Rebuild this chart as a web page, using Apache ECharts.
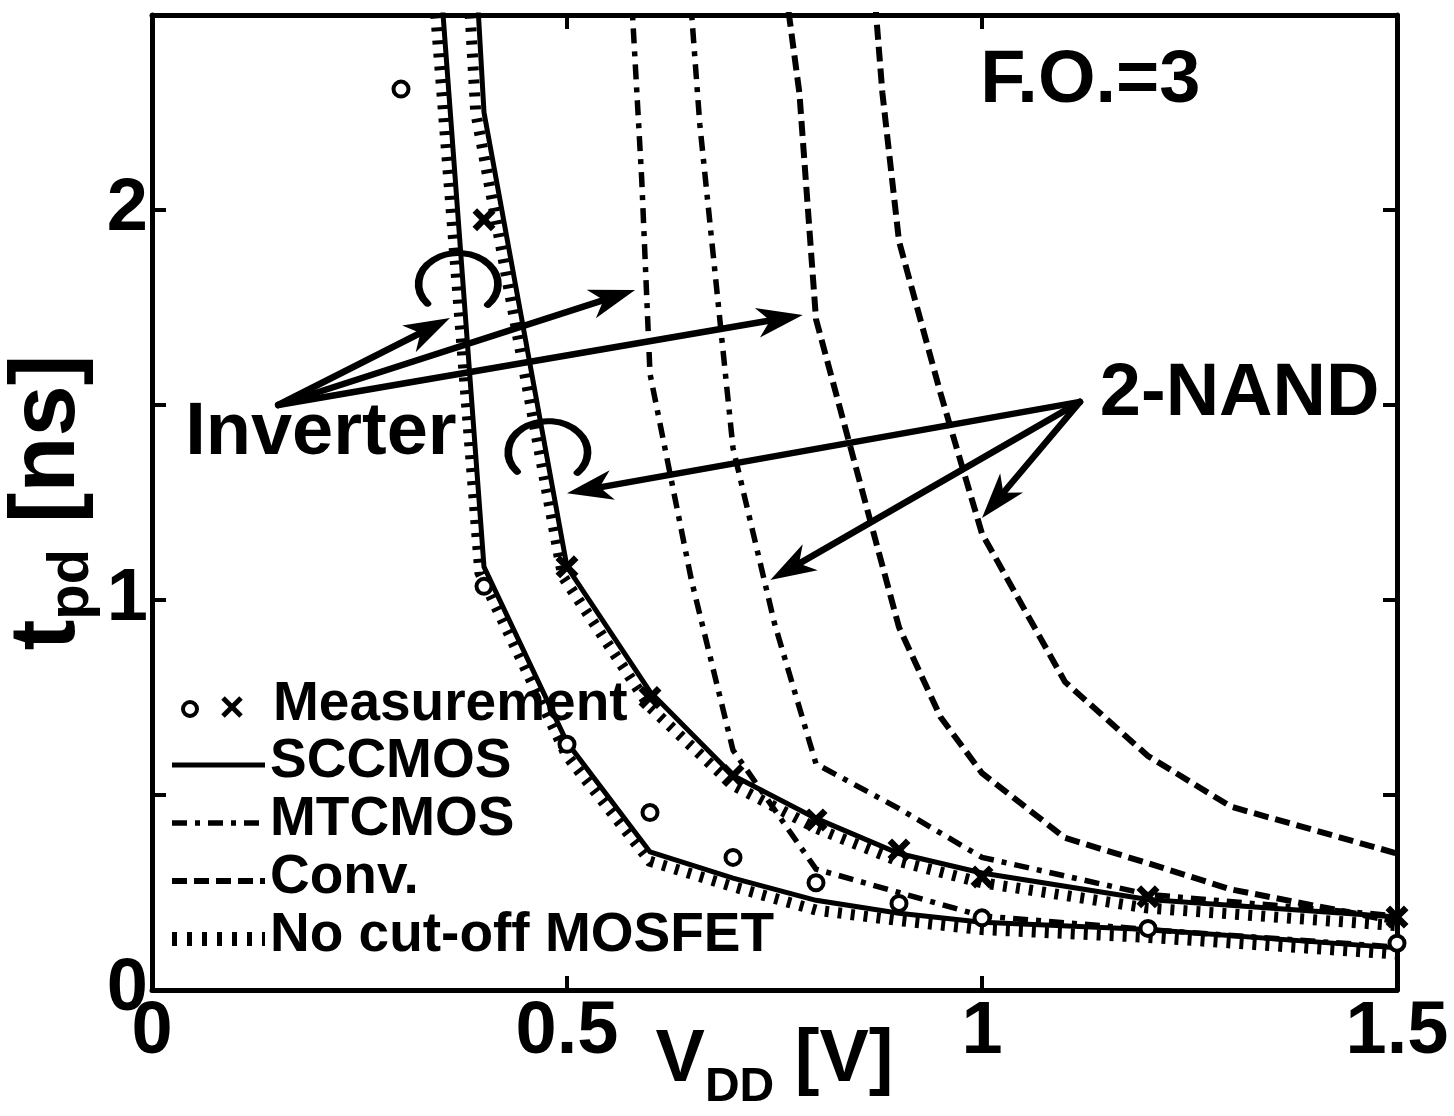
<!DOCTYPE html>
<html><head><meta charset="utf-8">
<script src="https://cdn.jsdelivr.net/npm/echarts@6/dist/echarts.min.js"></script>
<style>html,body{margin:0;padding:0;background:#fff}#c{width:1454px;height:1116px}</style>
</head><body><div id="c"></div>
<script>
// ---------- data ----------
const xTicks = [0, 0.5, 1, 1.5];
const yTicks = [0, 1, 2];

// Measurement: inverter (circles)
const measInvX = [0.3, 0.4, 0.5, 0.6, 0.7, 0.8, 0.9, 1.0, 1.2, 1.5];
const measInvY = [2.31, 1.035, 0.63, 0.455, 0.34, 0.275, 0.222, 0.185, 0.158, 0.12];
// Measurement: 2-NAND (crosses)
const measNandX = [0.4, 0.5, 0.6, 0.7, 0.8, 0.9, 1.0, 1.2, 1.5];
const measNandY = [1.975, 1.085, 0.75, 0.55, 0.436, 0.359, 0.29, 0.239, 0.187];

// SCCMOS (solid)
const sccInvX = [0.33, 0.35, 0.4, 0.5, 0.6, 0.7, 0.8, 0.9, 1.0, 1.2, 1.5];
const sccInvY = [3.2, 2.52, 1.085, 0.635, 0.354, 0.287, 0.23, 0.197, 0.174, 0.155, 0.108];
const sccNandX = [0.38, 0.4, 0.5, 0.6, 0.7, 0.8, 0.9, 1.0, 1.2, 1.5];
const sccNandY = [3.0, 2.25, 1.085, 0.765, 0.55, 0.44, 0.35, 0.3, 0.232, 0.187];

// No cut-off MOSFET (hatched)
const ncoInvX = [0.32, 0.34, 0.395, 0.5, 0.6, 0.7, 0.8, 0.9, 1.0, 1.2, 1.5];
const ncoInvY = [3.3, 2.55, 1.07, 0.6, 0.33, 0.265, 0.205, 0.178, 0.155, 0.135, 0.092];
const ncoNandX = [0.37, 0.39, 0.495, 0.6, 0.7, 0.8, 0.9, 1.0, 1.2, 1.5];
const ncoNandY = [3.0, 2.25, 1.06, 0.725, 0.525, 0.415, 0.33, 0.275, 0.21, 0.165];

// MTCMOS (dash-dot)
const mtInvX = [0.575, 0.59, 0.6, 0.65, 0.7, 0.8, 0.9, 1.0, 1.2, 1.5];
const mtInvY = [2.65, 2.08, 1.58, 1.05, 0.615, 0.31, 0.25, 0.19, 0.155, 0.11];
const mtNandX = [0.645, 0.66, 0.7, 0.75, 0.8, 0.9, 1.0, 1.2, 1.5];
const mtNandY = [2.65, 2.22, 1.39, 0.94, 0.58, 0.465, 0.34, 0.245, 0.19];

// Conv. (dashed)
const convInvX = [0.76, 0.78, 0.8, 0.9, 0.95, 1.0, 1.1, 1.2, 1.3, 1.5];
const convInvY = [2.62, 2.3, 1.72, 0.93, 0.7, 0.556, 0.39, 0.325, 0.258, 0.175];
const convNandX = [0.865, 0.88, 0.9, 0.95, 1.0, 1.1, 1.2, 1.3, 1.5];
const convNandY = [2.7, 2.3, 1.92, 1.53, 1.17, 0.79, 0.6, 0.47, 0.35];

// annotations (data coordinates)
const labelTexts = ['F.O.=3', 'Inverter', '2-NAND'];
const labelPos = [[0.998, 2.328], [0.04, 1.426], [1.142, 1.526]];
const invArrowFrom = [0.152, 1.5];
const invArrowTo = [[0.359, 1.723], [0.582, 1.795], [0.784, 1.731]];
const nandArrowFrom = [1.118, 1.508];
const nandArrowTo = [[0.5, 1.274], [0.745, 1.051], [1.0, 1.21]];
const bracketCenters = [[0.369, 1.81], [0.477, 1.379]];

const legendNames = ['Measurement', 'SCCMOS', 'MTCMOS', 'Conv.', 'No cut-off MOSFET'];

// ---------- helpers ----------
const F = '"Liberation Sans", Arial, Helvetica, sans-serif';
const zip = (xs, ys) => xs.map((x, i) => [x, ys[i]]);
const BLACK = '#000';
const HATCH = [4, 9];
const DASHDOT = [15, 8, 5, 8];
const DASH = [15, 7];

function lineSeries(name, xs, ys, width, type, z) {
  return {
    name, type: 'line', data: zip(xs, ys), symbol: 'none', clip: true, z,
    lineStyle: { color: BLACK, width, type, cap: 'butt', join: 'miter', opacity: 1 },
    emphasis: { disabled: true }, silent: true
  };
}

const axisCommon = {
  type: 'value', min: 0, interval: 0.5,
  splitLine: { show: false },
  axisLine: { show: true, onZero: false, lineStyle: { color: BLACK, width: 5 } },
  axisTick: { show: true, inside: true, length: 14, lineStyle: { color: BLACK, width: 4 } }
};

const xNameRich = {
  m: { fontSize: 74, fontWeight: 'bold', fontFamily: F, color: BLACK, lineHeight: 74, verticalAlign: 'top' },
  s: { fontSize: 48, fontWeight: 'bold', fontFamily: F, color: BLACK, lineHeight: 48, verticalAlign: 'top', padding: [40, 0, 0, 0] }
};
const yNameRich = {
  m: { fontSize: 92, fontWeight: 'bold', fontFamily: F, color: BLACK, lineHeight: 92, verticalAlign: 'top' },
  s: { fontSize: 58, fontWeight: 'bold', fontFamily: F, color: BLACK, lineHeight: 58, verticalAlign: 'top', padding: [40, 0, 0, 0] }
};

const chart = echarts.init(document.getElementById('c'), null, { renderer: 'canvas' });

const option = {
  animation: false,
  backgroundColor: '#fff',
  grid: { left: 152, right: 57, top: 15, bottom: 126, outerBoundsMode: 'none', containLabel: false },
  xAxis: [
    Object.assign({}, axisCommon, {
      max: 1.5, position: 'bottom',
      axisLabel: { fontSize: 74, fontWeight: 'bold', fontFamily: F, color: BLACK, margin: 6,
        formatter: v => (xTicks.some(t => Math.abs(t - v) < 1e-9) ? String(v) : '') },
      name: '{m|V}{s|DD}{m| [V]}', nameLocation: 'middle', nameGap: 34, nameMoveOverlap: false,
      nameTextStyle: { rich: xNameRich }
    }),
    Object.assign({}, axisCommon, { max: 1.5, position: 'top', axisLabel: { show: false } })
  ],
  yAxis: [
    Object.assign({}, axisCommon, {
      max: 2.5, position: 'left',
      axisLabel: { fontSize: 74, fontWeight: 'bold', fontFamily: F, color: BLACK, margin: 4,
        formatter: v => (yTicks.some(t => Math.abs(t - v) < 1e-9) ? String(v) : '') },
      name: '{m|t}{s|pd}{m| [ns]}', nameLocation: 'middle', nameGap: 57, nameRotate: 90, nameMoveOverlap: false,
      nameTextStyle: { rich: yNameRich }
    }),
    Object.assign({}, axisCommon, { max: 2.5, position: 'right', axisLabel: { show: false } })
  ],
  series: [
    lineSeries('No cut-off MOSFET (Inverter)', ncoInvX, ncoInvY, 11, HATCH, 2),
    lineSeries('No cut-off MOSFET (2-NAND)', ncoNandX, ncoNandY, 11, HATCH, 2),
    lineSeries('MTCMOS (Inverter)', mtInvX, mtInvY, 5.5, DASHDOT, 3),
    lineSeries('MTCMOS (2-NAND)', mtNandX, mtNandY, 5.5, DASHDOT, 3),
    lineSeries('Conv. (Inverter)', convInvX, convInvY, 6, DASH, 3),
    lineSeries('Conv. (2-NAND)', convNandX, convNandY, 6, DASH, 3),
    lineSeries('SCCMOS (Inverter)', sccInvX, sccInvY, 5, 'solid', 4),
    lineSeries('SCCMOS (2-NAND)', sccNandX, sccNandY, 5, 'solid', 4),
    {
      name: 'Measurement (Inverter)', type: 'scatter', data: zip(measInvX, measInvY), z: 5,
      symbol: 'circle', symbolSize: 15,
      itemStyle: { color: '#fff', borderColor: BLACK, borderWidth: 4, opacity: 1 },
      emphasis: { disabled: true }, silent: true
    },
    {
      name: 'Measurement (2-NAND)', type: 'scatter', data: zip(measNandX, measNandY), z: 5,
      symbol: 'path://M0,2 L2,0 L5,3 L8,0 L10,2 L7,5 L10,8 L8,10 L5,7 L2,10 L0,8 L3,5 Z',
      symbolSize: 23, itemStyle: { color: BLACK, opacity: 1 },
      emphasis: { disabled: true }, silent: true
    }
  ]
};
chart.setOption(option);

// ---------- annotations ----------
const toPx = p => chart.convertToPixel({ xAxisIndex: 0, yAxisIndex: 0 }, p);
const g = [];

function arrow(fromD, toD) {
  const a = toPx(fromD), b = toPx(toD);
  const dx = b[0] - a[0], dy = b[1] - a[1];
  const len = Math.hypot(dx, dy), ux = dx / len, uy = dy / len;
  const nx = -uy, ny = ux;
  const L = 46, W = 15;
  const back = [b[0] - ux * L, b[1] - uy * L];
  const notch = [b[0] - ux * L * 0.72, b[1] - uy * L * 0.72];
  g.push({ type: 'line', z: 20, shape: { x1: a[0], y1: a[1], x2: notch[0], y2: notch[1] },
    style: { stroke: BLACK, lineWidth: 6.5, lineCap: 'round' } });
  g.push({ type: 'polygon', z: 20, shape: { points: [b, [back[0] + nx * W, back[1] + ny * W], notch, [back[0] - nx * W, back[1] - ny * W]] },
    style: { fill: BLACK } });
}
invArrowTo.forEach(t => arrow(invArrowFrom, t));
nandArrowTo.forEach(t => arrow(nandArrowFrom, t));

bracketCenters.forEach(c => {
  const p = toPx(c);
  g.push({ type: 'arc', z: 20, x: p[0], y: p[1], scaleX: 1.28,
    shape: { cx: 0, cy: 0, r: 31, startAngle: 2.46, endAngle: 0.73, clockwise: true },
    style: { stroke: BLACK, lineWidth: 6, fill: null, lineCap: 'round' } });
});

labelTexts.forEach((t, i) => {
  const p = toPx(labelPos[i]);
  g.push({ type: 'text', z: 30, x: p[0], y: p[1],
    style: { text: t, fill: BLACK, font: 'bold 74px ' + F, textAlign: 'left', textVerticalAlign: 'middle', align: 'left', verticalAlign: 'middle' } });
});

// legend (inside plot, lower-left)
const legX0 = 172, legX1 = 265, legTextX = 270;
const legRows = [705, 762, 820, 878, 936];
g.push({ type: 'circle', z: 30, shape: { cx: 190, cy: 709, r: 7 }, style: { stroke: BLACK, lineWidth: 4, fill: '#fff' } });
g.push({ type: 'line', z: 30, shape: { x1: 223, y1: 698, x2: 241, y2: 716 }, style: { stroke: BLACK, lineWidth: 5 } });
g.push({ type: 'line', z: 30, shape: { x1: 241, y1: 698, x2: 223, y2: 716 }, style: { stroke: BLACK, lineWidth: 5 } });
const legDash = [null, null, DASHDOT, DASH, [5, 10]];
const legW = [0, 5, 5.5, 6, 14];
for (let i = 1; i < 5; i++) {
  const st = { stroke: BLACK, lineWidth: legW[i], lineCap: 'butt' };
  if (legDash[i]) st.lineDash = legDash[i];
  g.push({ type: 'line', z: 30, shape: { x1: legX0, y1: legRows[i] + 3, x2: legX1, y2: legRows[i] + 3 }, style: st });
}
legendNames.forEach((t, i) => {
  g.push({ type: 'text', z: 30, x: i === 0 ? 273 : legTextX, y: legRows[i],
    style: { text: t, fill: BLACK, font: 'bold 55px ' + F, textAlign: 'left', textVerticalAlign: 'middle', align: 'left', verticalAlign: 'middle' } });
});

chart.setOption({ graphic: { elements: g } });
</script></body></html>
